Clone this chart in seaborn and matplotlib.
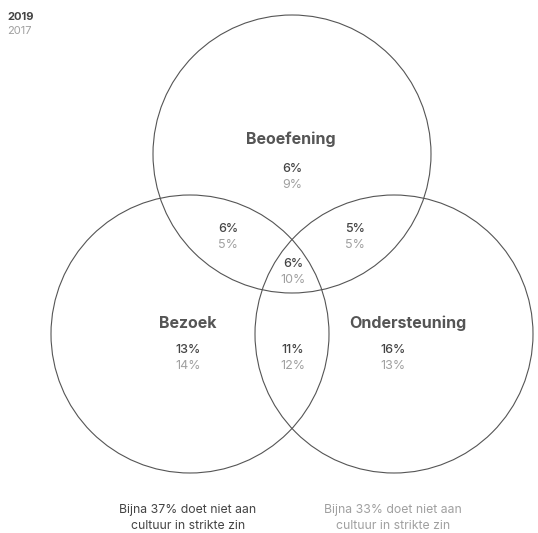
import matplotlib
matplotlib.use("Agg")
import matplotlib.pyplot as plt
import seaborn as sns
from matplotlib.patches import Circle

# venn sets and shares (2019 vs 2017)
sets = ["Beoefening", "Bezoek", "Ondersteuning"]
regions = ["B", "Z", "O", "BZ", "BO", "BZO", "ZO"]
pct_2019 = [6, 13, 16, 6, 5, 6, 11]
pct_2017 = [9, 14, 13, 5, 5, 10, 12]
none_2019 = 37
none_2017 = 33
years = ["2019", "2017"]

sns.set_theme(style="white")
plt.rcParams["font.family"] = ["Inter", "DejaVu Sans"]

dark = "#444444"
light = "#a0a0a0"

fig = plt.figure(figsize=(5.38, 5.33), dpi=100)
ax = fig.add_axes([0, 0, 1, 1])
ax.set_xlim(0, 538)
ax.set_ylim(533, 0)
ax.set_aspect("equal")
ax.axis("off")

# circle centres in pixel space
centres = {"Beoefening": (292, 154), "Bezoek": (190, 334), "Ondersteuning": (394, 334)}
r = 139
for name in sets:
    ax.add_patch(Circle(centres[name], r, fill=False, ec="#555555", lw=0.8))

# set titles
title_pos = {"Beoefening": (291, 139), "Bezoek": (188, 323), "Ondersteuning": (408, 323)}
for name in sets:
    x, y = title_pos[name]
    ax.text(x, y, name, ha="center", va="center", fontsize=11.5,
            fontweight="bold", color="#555555")

# region values
pos = {"B": (292, 169), "Z": (188, 350), "O": (393, 350), "BZ": (228, 229),
       "BO": (355, 229), "BZO": (293, 264), "ZO": (293, 350)}
for reg, a, b in zip(regions, pct_2019, pct_2017):
    x, y = pos[reg]
    ax.text(x, y, f"{a}%", ha="center", va="center", fontsize=9,
            fontweight="medium", color=dark)
    ax.text(x, y + 16, f"{b}%", ha="center", va="center", fontsize=9, color=light)

# legend
ax.text(7, 17, years[0], ha="left", va="center", fontsize=8, fontweight="bold", color=dark)
ax.text(7, 31, years[1], ha="left", va="center", fontsize=8, color=light)

# footnotes
ax.text(188, 518, f"Bijna {none_2019}% doet niet aan\ncultuur in strikte zin",
        ha="center", va="center", fontsize=8.8, color=dark, linespacing=1.45)
ax.text(393, 518, f"Bijna {none_2017}% doet niet aan\ncultuur in strikte zin",
        ha="center", va="center", fontsize=8.8, color=light, linespacing=1.45)

fig.savefig("out.png", dpi=100)
